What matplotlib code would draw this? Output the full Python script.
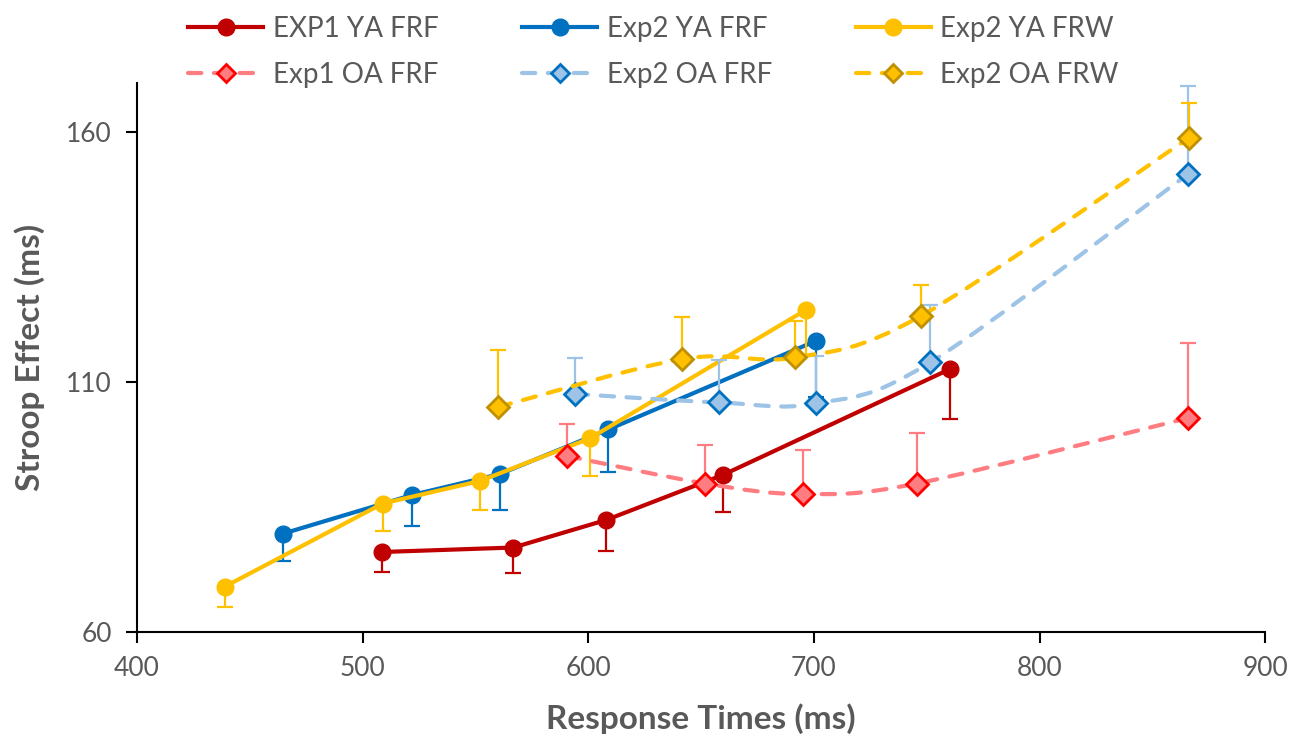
import matplotlib
matplotlib.use("Agg")
import matplotlib.pyplot as plt
from matplotlib.path import Path
from matplotlib.patches import PathPatch
from matplotlib.lines import Line2D
import numpy as np

plt.rcParams['font.family'] = ['Lato', 'DejaVu Sans']

# response times (x), stroop effect (y) and one-sided error for each series
exp1_ya_rt = [508.6, 566.8, 607.9, 659.6, 760.4]
exp1_ya_stroop = [76.0, 76.9, 82.4, 91.4, 112.6]
exp1_ya_err = [4.0, 5.1, 6.2, 7.3, 10.0]

exp2_ya_frf_rt = [464.9, 521.9, 560.9, 608.9, 700.8]
exp2_ya_frf_stroop = [79.7, 87.4, 91.6, 100.5, 118.2]
exp2_ya_frf_err = [5.5, 6.2, 7.2, 8.5, 11.3]

exp2_ya_frw_rt = [439.0, 508.9, 552.0, 600.6, 696.4]
exp2_ya_frw_stroop = [69.1, 85.7, 90.2, 98.7, 124.4]
exp2_ya_frw_err = [4.0, 5.5, 5.8, 7.4, 9.0]

exp1_oa_rt = [590.5, 651.8, 695.1, 745.6, 865.9]
exp1_oa_stroop = [95.2, 89.7, 87.6, 89.7, 102.8]
exp1_oa_err = [6.4, 7.7, 8.7, 10.0, 15.0]

exp2_oa_frf_rt = [594.1, 658.0, 700.8, 751.5, 865.9]
exp2_oa_frf_stroop = [107.6, 105.9, 105.7, 113.9, 151.6]
exp2_oa_frf_err = [7.2, 8.4, 9.5, 11.4, 17.5]

exp2_oa_frw_rt = [560.0, 641.7, 691.7, 747.4, 866.2]
exp2_oa_frw_stroop = [105.0, 114.6, 114.9, 123.2, 158.8]
exp2_oa_frw_err = [11.4, 8.3, 7.2, 6.1, 7.0]

x_ticks = [400, 500, 600, 700, 800, 900]
y_ticks = [60, 110, 160]

grey = '#595959'


def smooth_path(xs, ys):
    # excel style smoothed line: bezier segments with catmull-rom control points
    pts = np.column_stack([xs, ys])
    n = len(pts)
    verts = [pts[0]]
    codes = [Path.MOVETO]
    for i in range(n - 1):
        p0 = pts[max(i - 1, 0)]
        p1 = pts[i]
        p2 = pts[i + 1]
        p3 = pts[min(i + 2, n - 1)]
        c1 = p1 + (p2 - p0) / 6.0
        c2 = p2 - (p3 - p1) / 6.0
        verts += [c1, c2, p2]
        codes += [Path.CURVE4] * 3
    return Path(verts, codes)


fig = plt.figure(figsize=(13.07, 7.38), dpi=100)
ax = fig.add_axes([0.1048, 0.1436, 0.8632, 0.744])

ya_series = [
    (exp1_ya_rt, exp1_ya_stroop, exp1_ya_err, '#C00000', 'EXP1 YA FRF'),
    (exp2_ya_frf_rt, exp2_ya_frf_stroop, exp2_ya_frf_err, '#0070C0', 'Exp2 YA FRF'),
    (exp2_ya_frw_rt, exp2_ya_frw_stroop, exp2_ya_frw_err, '#FFC000', 'Exp2 YA FRW'),
]
oa_series = [
    (exp1_oa_rt, exp1_oa_stroop, exp1_oa_err, '#FF7C80', '#FF7C80', '#FF0000', 'Exp1 OA FRF'),
    (exp2_oa_frf_rt, exp2_oa_frf_stroop, exp2_oa_frf_err, '#9DC3E6', '#9DC3E6', '#0070C0', 'Exp2 OA FRF'),
    (exp2_oa_frw_rt, exp2_oa_frw_stroop, exp2_oa_frw_err, '#FFC000', '#FFC000', '#BF9000', 'Exp2 OA FRW'),
]

dash = (0, (3.2, 3.0))
handles = {}
z = 2
for x, y, e, col, lab in ya_series:
    ax.errorbar(x, y, yerr=[e, np.zeros(len(e))], fmt='none', ecolor=col,
                elinewidth=1.6, capsize=6, capthick=1.6, zorder=z)
    ax.plot(x, y, color=col, lw=3, marker='o', ms=12, zorder=z + 0.5)
    handles[lab] = Line2D([], [], color=col, lw=3, marker='o', ms=12)
    z += 1

for x, y, e, lcol, fcol, ecol, lab in oa_series:
    ax.errorbar(x, y, yerr=[np.zeros(len(e)), e], fmt='none', ecolor=lcol,
                elinewidth=1.6, capsize=6, capthick=1.6, zorder=z)
    patch = PathPatch(smooth_path(x, y), fill=False, edgecolor=lcol, lw=3,
                      linestyle=dash, capstyle='round', zorder=z + 0.3)
    ax.add_patch(patch)
    ax.plot(x, y, ls='none', marker='D', ms=11, mfc=fcol, mec=ecol, mew=2,
            zorder=z + 0.5)
    handles[lab] = Line2D([], [], color=lcol, lw=3, ls=dash, marker='D', ms=9,
                          mfc=fcol, mec=ecol, mew=2, dash_capstyle='round')
    z += 1

ax.set_xlim(400, 900)
ax.set_ylim(60, 169.8)
ax.set_xticks(x_ticks)
ax.set_yticks(y_ticks)
ax.tick_params(axis='both', colors='black', labelcolor=grey, labelsize=19,
               width=1.5, length=8, direction='out')
ax.tick_params(axis='x', pad=9)
ax.tick_params(axis='y', pad=10)
for s in ['top', 'right']:
    ax.spines[s].set_visible(False)
for s in ['left', 'bottom']:
    ax.spines[s].set_linewidth(1.5)

ax.set_xlabel('Response Times (ms)', fontsize=24, fontweight='bold', color=grey,
              labelpad=16)
ax.set_ylabel('Stroop Effect (ms)', fontsize=24, fontweight='bold', color=grey,
              labelpad=15)

order = ['EXP1 YA FRF', 'Exp1 OA FRF', 'Exp2 YA FRF', 'Exp2 OA FRF',
         'Exp2 YA FRW', 'Exp2 OA FRW']
leg = fig.legend([handles[k] for k in order], order, ncol=3, loc='upper center',
                 bbox_to_anchor=(0.500, 1.012), frameon=False, fontsize=20,
                 handlelength=2.7, columnspacing=3.0, labelspacing=0.72,
                 handletextpad=0.35)
for t in leg.get_texts():
    t.set_color(grey)

fig.savefig('out.png', dpi=100)
